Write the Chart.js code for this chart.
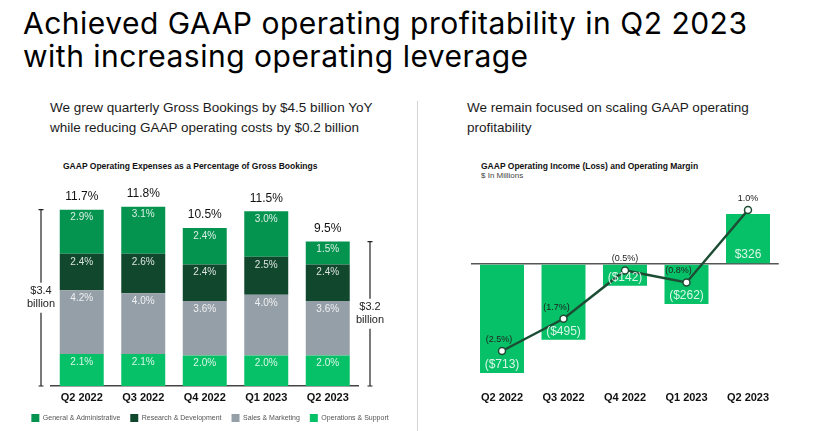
<!DOCTYPE html>
<html><head><meta charset="utf-8">
<script src="https://cdn.jsdelivr.net/npm/chart.js@4.4.0/dist/chart.umd.min.js"></script>
<style>
html,body{margin:0;padding:0;background:#fff;width:829px;height:431px;overflow:hidden;position:relative;font-family:Inter,'Liberation Sans',Arial,sans-serif;}
.abs{position:absolute;white-space:nowrap;}
#title{left:23px;top:7px;font-size:30px;line-height:32.5px;letter-spacing:0.5px;color:#000;}
.sub{font-size:13.5px;line-height:20px;color:#1b1b1b;font-family:'Liberation Sans',Arial,sans-serif;}
#subL{left:50px;top:98px;}
#subR{left:467px;top:98px;}
#divider{left:417px;top:101px;width:1px;height:330px;background:#d4d4d4;}
.ctitle{font-size:8.5px;font-weight:bold;color:#111;font-family:'Liberation Sans',Arial,sans-serif;}
#ctL{left:63px;top:161px;}
#ctR{left:481px;top:161px;}
#ctR2{left:481px;top:171px;font-size:8px;font-weight:normal;color:#444;}
canvas{position:absolute;}
#cL{left:0;top:179px;}
#cR{left:440px;top:179px;}
</style></head>
<body>
<div id="title" class="abs">Achieved GAAP operating profitability in Q2 2023<br>with increasing operating leverage</div>
<div id="subL" class="abs sub">We grew quarterly Gross Bookings by $4.5 billion YoY<br>while reducing GAAP operating costs by $0.2 billion</div>
<div id="subR" class="abs sub">We remain focused on scaling GAAP operating<br>profitability</div>
<div id="divider" class="abs"></div>
<div id="ctL" class="abs ctitle">GAAP Operating Expenses as a Percentage of Gross Bookings</div>
<div id="ctR" class="abs ctitle">GAAP Operating Income (Loss) and Operating Margin</div>
<div id="ctR2" class="abs ctitle">$ In Millions</div>
<canvas id="cL" width="420" height="253"></canvas>
<canvas id="cR" width="389" height="252"></canvas>
<script>
// ---- data ----
const quarters = ['Q2 2022','Q3 2022','Q4 2022','Q1 2023','Q2 2023'];
const gaPct  = [2.9, 3.1, 2.4, 3.0, 1.5];
const rdPct  = [2.4, 2.6, 2.4, 2.5, 2.4];
const smPct  = [4.2, 4.0, 3.6, 4.0, 3.6];
const opsPct = [2.1, 2.1, 2.0, 2.0, 2.0];
const totalPct = [11.7, 11.8, 10.5, 11.5, 9.5];
const bracketLabels = [['$3.4','billion'], ['$3.2','billion']];
const opIncome = [-713, -495, -142, -262, 326];
const opMargin = [-2.5, -1.7, -0.5, -0.8, 1.0];

// ---- style ----
const C = {ga:'#05944F', rd:'#11472D', sm:'#959FA8', ops:'#06C167', line:'#1D4D34'};
const FONT = "'Liberation Sans', Arial, sans-serif";
Chart.defaults.font.family = FONT;
const marginLabelDx = [-3, -7, 0, -8, 0];

const leftLabels = {
  id:'leftLabels',
  afterDatasetsDraw(chart){
    const {ctx, chartArea, scales:{y}} = chart;
    ctx.save();
    ctx.textAlign = 'center'; ctx.textBaseline = 'middle';
    ctx.font = '10px ' + FONT;
    ctx.fillStyle = 'rgba(255,255,255,0.85)';
    chart.data.datasets.forEach((ds, di) => {
      chart.getDatasetMeta(di).data.forEach((el, i) => {
        const top = Math.min(el.y, el.base);
        ctx.fillText(ds.data[i].toFixed(1) + '%', el.x, top + 8);
      });
    });
    const topMeta = chart.getDatasetMeta(chart.data.datasets.length - 1);
    ctx.fillStyle = '#111'; ctx.font = '12px ' + FONT;
    topMeta.data.forEach((el, i) => ctx.fillText(totalPct[i].toFixed(1) + '%', el.x, el.y - 13));
    // brackets
    const base = y.getPixelForValue(0);
    const specs = [
      {x: chartArea.left - 10, top: topMeta.data[0].y, lines: bracketLabels[0]},
      {x: chartArea.right + 11.5, top: topMeta.data[topMeta.data.length-1].y, lines: bracketLabels[1]}
    ];
    ctx.strokeStyle = '#222'; ctx.lineWidth = 1.2;
    ctx.font = '11px ' + FONT; ctx.fillStyle = '#222';
    specs.forEach(s => {
      const mid = (s.top + base) / 2;
      ctx.beginPath();
      ctx.moveTo(s.x, s.top); ctx.lineTo(s.x, mid - 15);
      ctx.moveTo(s.x, mid + 15); ctx.lineTo(s.x, base);
      ctx.moveTo(s.x - 2.5, s.top); ctx.lineTo(s.x + 2.5, s.top);
      ctx.moveTo(s.x - 2.5, base); ctx.lineTo(s.x + 2.5, base);
      ctx.stroke();
      ctx.fillText(s.lines[0], s.x, mid - 6.5);
      ctx.fillText(s.lines[1], s.x, mid + 6.5);
    });
    ctx.restore();
  }
};

new Chart(document.getElementById('cL'), {
  type: 'bar',
  data: {labels: quarters, datasets: [
    {label:'Operations & Support', data: opsPct, backgroundColor: C.ops},
    {label:'Sales & Marketing', data: smPct, backgroundColor: C.sm},
    {label:'Research & Development', data: rdPct, backgroundColor: C.rd},
    {label:'General & Administrative', data: gaPct, backgroundColor: C.ga}
  ]},
  options: {
    responsive:false, maintainAspectRatio:false, animation:false,
    layout:{padding:{top:9.4}},
    datasets:{bar:{barPercentage:0.715, categoryPercentage:1, borderWidth:0}},
    scales:{
      x:{stacked:true, grid:{display:false, drawTicks:false}, border:{display:true, color:'#444', width:1.5},
         ticks:{color:'#111', font:{size:11, weight:'bold'}, padding:5}, afterFit:s=>{s.height=18;}},
      y:{stacked:true, min:0, max:13, grid:{display:false, drawTicks:false}, border:{display:false}, ticks:{display:false}, afterFit:s=>{s.width=51;}},
      yPad:{type:'linear', position:'right', grid:{display:false, drawTicks:false}, border:{display:false}, ticks:{display:false}, afterFit:s=>{s.width=61.5;}}
    },
    plugins:{
      legend:{position:'bottom', reverse:true, labels:{boxWidth:8, boxHeight:8, padding:10, color:'#555', font:{size:7}}},
      tooltip:{enabled:false}
    }
  },
  plugins:[leftLabels]
});

const rightLabels = {
  id:'rightLabels',
  afterDatasetsDraw(chart){
    const {ctx} = chart;
    ctx.save();
    ctx.textAlign = 'center'; ctx.textBaseline = 'middle';
    const barMeta = chart.getDatasetMeta(1);
    ctx.font = '12px ' + FONT; ctx.fillStyle = 'rgba(255,255,255,0.85)';
    barMeta.data.forEach((el, i) => {
      const v = opIncome[i];
      const bottom = Math.max(el.y, el.base);
      ctx.fillText(v < 0 ? '($' + Math.abs(v) + ')' : '$' + v, el.x, bottom - 8.5);
    });
    const lineMeta = chart.getDatasetMeta(0);
    ctx.font = '9px ' + FONT; ctx.fillStyle = '#222';
    lineMeta.data.forEach((el, i) => {
      const v = opMargin[i];
      ctx.fillText(v < 0 ? '(' + Math.abs(v).toFixed(1) + '%)' : v.toFixed(1) + '%', el.x + marginLabelDx[i], el.y - 11.5);
    });
    ctx.restore();
  }
};

new Chart(document.getElementById('cR'), {
  data: {labels: quarters, datasets: [
    {type:'line', label:'Operating Margin', data: opMargin, yAxisID:'y2', order:0,
     borderColor:C.line, borderWidth:2.5, tension:0, pointRadius:3.5,
     pointBackgroundColor:'#fff', pointBorderColor:C.line, pointBorderWidth:1.5},
    {type:'bar', label:'GAAP Operating Income (Loss)', data: opIncome, yAxisID:'y', order:1,
     backgroundColor:C.ops, barPercentage:0.715, categoryPercentage:1, borderWidth:0}
  ]},
  options: {
    responsive:false, maintainAspectRatio:false, animation:false,
    layout:{padding:{top:11.56}},
    scales:{
      x:{grid:{display:false, drawTicks:false}, border:{display:false},
         ticks:{color:'#111', font:{size:11, weight:'bold'}, padding:5}, afterFit:s=>{s.height=44.6;}},
      y:{min:-800, max:480, ticks:{display:false, stepSize:80},
         grid:{color:c=>c.tick && c.tick.value===0 ? '#555' : 'rgba(0,0,0,0)', lineWidth:1.5, drawTicks:false},
         border:{display:false}, afterFit:s=>{s.width=31.25;}},
      y2:{position:'right', min:-3.378, max:1.481, grid:{display:false, drawTicks:false}, border:{display:false},
          ticks:{display:false}, afterFit:s=>{s.width=50.25;}}
    },
    plugins:{legend:{display:false}, tooltip:{enabled:false}}
  },
  plugins:[rightLabels]
});
</script>
</body></html>
